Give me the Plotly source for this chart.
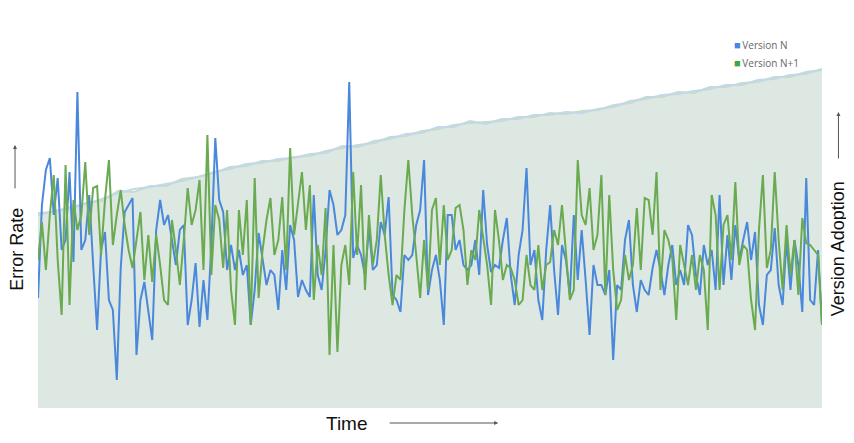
import plotly.graph_objects as go

# Error rate series (Version N, Version N+1), sampled over time index 0..199
error_n = [
    110, 203, 238, 250, 193, 230, 158, 168, 236, 146, 316, 158, 168, 213, 143, 78, 158, 176, 108, 98, 28, 140, 196, 203, 210, 53, 108, 126, 98, 68, 178, 208, 183,
    193, 168, 143, 178, 183, 83, 108, 145, 81, 128, 88, 163, 270, 208, 196, 138, 163, 138, 158, 133, 143, 83, 118, 175, 150, 123, 138, 133, 98, 158, 118, 183, 168,
    111, 128, 118, 111, 213, 133, 118, 158, 218, 203, 173, 178, 193, 326, 150, 163, 153, 133, 180, 138, 143, 186, 173, 211, 113, 108, 96, 153, 148, 153, 183, 198, 248,
    113, 138, 153, 128, 83, 193, 193, 158, 168, 143, 138, 143, 168, 133, 218, 163, 136, 143, 140, 168, 190, 133, 103, 153, 178, 240, 143, 158, 108, 88, 158, 203, 138,
    93, 163, 148, 113, 193, 128, 178, 128, 73, 143, 123, 123, 113, 138, 48, 123, 118, 168, 188, 123, 96, 128, 118, 113, 140, 158, 138, 113, 143, 163, 123, 138, 123,
    183, 173, 133, 113, 163, 143, 158, 118, 213, 123, 173, 128, 183, 148, 168, 186, 148, 176, 103, 83, 133, 138, 180, 123, 103, 168, 118, 168, 143, 96, 230, 108, 103, 158, 83,
]
error_n1 = [
    148, 186, 138, 193, 233, 148, 93, 243, 103, 208, 178, 193, 246, 173, 220, 222, 153, 208, 248, 163, 193, 218, 183, 158, 140, 168, 196, 128, 173, 126, 173, 143, 108,
    103, 188, 158, 123, 168, 220, 183, 198, 228, 138, 273, 133, 203, 188, 140, 198, 118, 83, 198, 153, 208, 83, 230, 110, 158, 188, 210, 153, 168, 211, 138, 260, 173,
    203, 236, 178, 223, 108, 163, 133, 200, 53, 163, 56, 143, 163, 123, 236, 153, 223, 118, 193, 143, 168, 233, 173, 133, 103, 133, 128, 198, 248, 193, 153, 110, 168,
    118, 198, 210, 143, 203, 148, 158, 200, 203, 178, 123, 158, 148, 198, 168, 143, 103, 198, 168, 128, 143, 140, 128, 103, 108, 153, 123, 118, 163, 118, 143, 146, 178,
    163, 203, 153, 108, 118, 248, 193, 183, 220, 158, 173, 233, 113, 213, 138, 98, 108, 153, 128, 143, 200, 138, 210, 208, 173, 236, 118, 178, 168, 150, 88, 163, 143,
    123, 153, 118, 153, 138, 78, 213, 193, 118, 183, 193, 148, 226, 143, 163, 158, 108, 78, 178, 233, 140, 158, 236, 168, 118, 183, 133, 168, 113, 190, 165, 163, 158, 153, 83,
]
time_idx = list(range(len(error_n)))

# Version adoption (Version N, Version N+1), 50 samples across the same period
adoption_n = [
    195, 196, 201, 204, 209, 215, 219, 221, 224, 227, 231, 236, 239, 244, 245, 249, 250, 254, 255, 262,
    261, 267, 269, 274, 275, 281, 281, 287, 284, 289, 289, 293, 293, 296, 295, 299, 301, 307, 309, 313,
    314, 317, 319, 323, 323, 328, 329, 333, 334, 339,
]
adoption_n1 = [
    193, 197, 199, 205, 207, 217, 216, 222, 222, 229, 231, 235, 241, 242, 247, 247, 251, 252, 257, 260,
    263, 265, 271, 272, 277, 279, 283, 285, 286, 287, 291, 291, 295, 294, 297, 298, 303, 305, 311, 311,
    316, 315, 321, 321, 325, 326, 331, 331, 336, 338,
]
adoption_time = [i * (len(error_n) - 1) / (len(adoption_n) - 1) for i in range(len(adoption_n))]

series_names = ["Version N", "Version N+1"]
blue = "#4a88dc"
green = "#6aaa50"
legend_colors = ["#4a86e8", "#3daa3a"]

fig = go.Figure()

# adoption area (primary axis drawn underneath, placed on the right)
fig.add_trace(go.Scatter(x=adoption_time, y=adoption_n1, mode="lines", yaxis="y",
                         line=dict(color="#c6dcc4", width=2), fill="tozeroy",
                         fillcolor="#dde8e2", showlegend=False, hoverinfo="skip"))
fig.add_trace(go.Scatter(x=adoption_time, y=adoption_n, mode="lines", yaxis="y",
                         line=dict(color="#c2d8ea", width=2), showlegend=False, hoverinfo="skip"))

# error lines (overlay axis, on the left, drawn on top)
fig.add_trace(go.Scatter(x=time_idx, y=error_n, mode="lines", yaxis="y2",
                         line=dict(color=blue, width=2), name=series_names[0], showlegend=False))
fig.add_trace(go.Scatter(x=time_idx, y=error_n1, mode="lines", yaxis="y2",
                         line=dict(color=green, width=2), name=series_names[1], showlegend=False))

fig.update_layout(
    width=854, height=443,
    margin=dict(l=30, r=40, t=22, b=43),
    paper_bgcolor="white", plot_bgcolor="white",
    font=dict(family="Liberation Sans, Arial, sans-serif", color="#111"),
    xaxis=dict(range=[0, len(error_n) - 1], showgrid=False, zeroline=False,
               showticklabels=False, showline=False, ticks=""),
    yaxis=dict(range=[0, 378], side="right", showgrid=False, zeroline=False,
               showticklabels=False, showline=False, ticks=""),
    yaxis2=dict(range=[0, 378], overlaying="y", side="left", showgrid=False,
                zeroline=False, showticklabels=False, showline=False, ticks=""),
    showlegend=False,
)

# legend built from text swatches
for i, (name, col) in enumerate(zip(series_names, legend_colors)):
    fig.add_annotation(text=f'<span style="color:{col};font-size:11px">■</span>\u2009{name}',
                       xref="paper", yref="paper",
                       x=0.886, y=0.961 - i * 0.046, xanchor="left", yanchor="middle",
                       showarrow=False, borderpad=0,
                       font=dict(size=10, color="#666", family="Open Sans, sans-serif"))

arrow_color = "#555"
# axis labels
fig.add_annotation(text="Error Rate", xref="paper", yref="paper", x=-0.026, y=0.42,
                   textangle=-90, showarrow=False, font=dict(size=18), xanchor="center", yanchor="middle")
fig.add_annotation(text="Version Adoption", xref="paper", yref="paper", x=1.0205, y=0.42,
                   textangle=-90, showarrow=False, font=dict(size=18), xanchor="center", yanchor="middle")
fig.add_annotation(text="Time", xref="paper", yref="paper", x=0.394, y=-0.04,
                   showarrow=False, font=dict(size=19), xanchor="center", yanchor="middle")

# arrows (tail offsets in pixels)
fig.add_annotation(text="", xref="paper", yref="paper", x=-0.0293, y=0.696,
                   ax=0, ay=45, showarrow=True, arrowhead=2, arrowsize=0.8,
                   arrowwidth=1, arrowcolor=arrow_color)
fig.add_annotation(text="", xref="paper", yref="paper", x=1.021, y=0.783,
                   ax=0, ay=48, showarrow=True, arrowhead=2, arrowsize=0.8,
                   arrowwidth=1, arrowcolor=arrow_color)
fig.add_annotation(text="", xref="paper", yref="paper", x=0.587, y=-0.0397,
                   ax=-110, ay=0, showarrow=True, arrowhead=2, arrowsize=0.8,
                   arrowwidth=1, arrowcolor=arrow_color)

fig.write_html("out.html")
